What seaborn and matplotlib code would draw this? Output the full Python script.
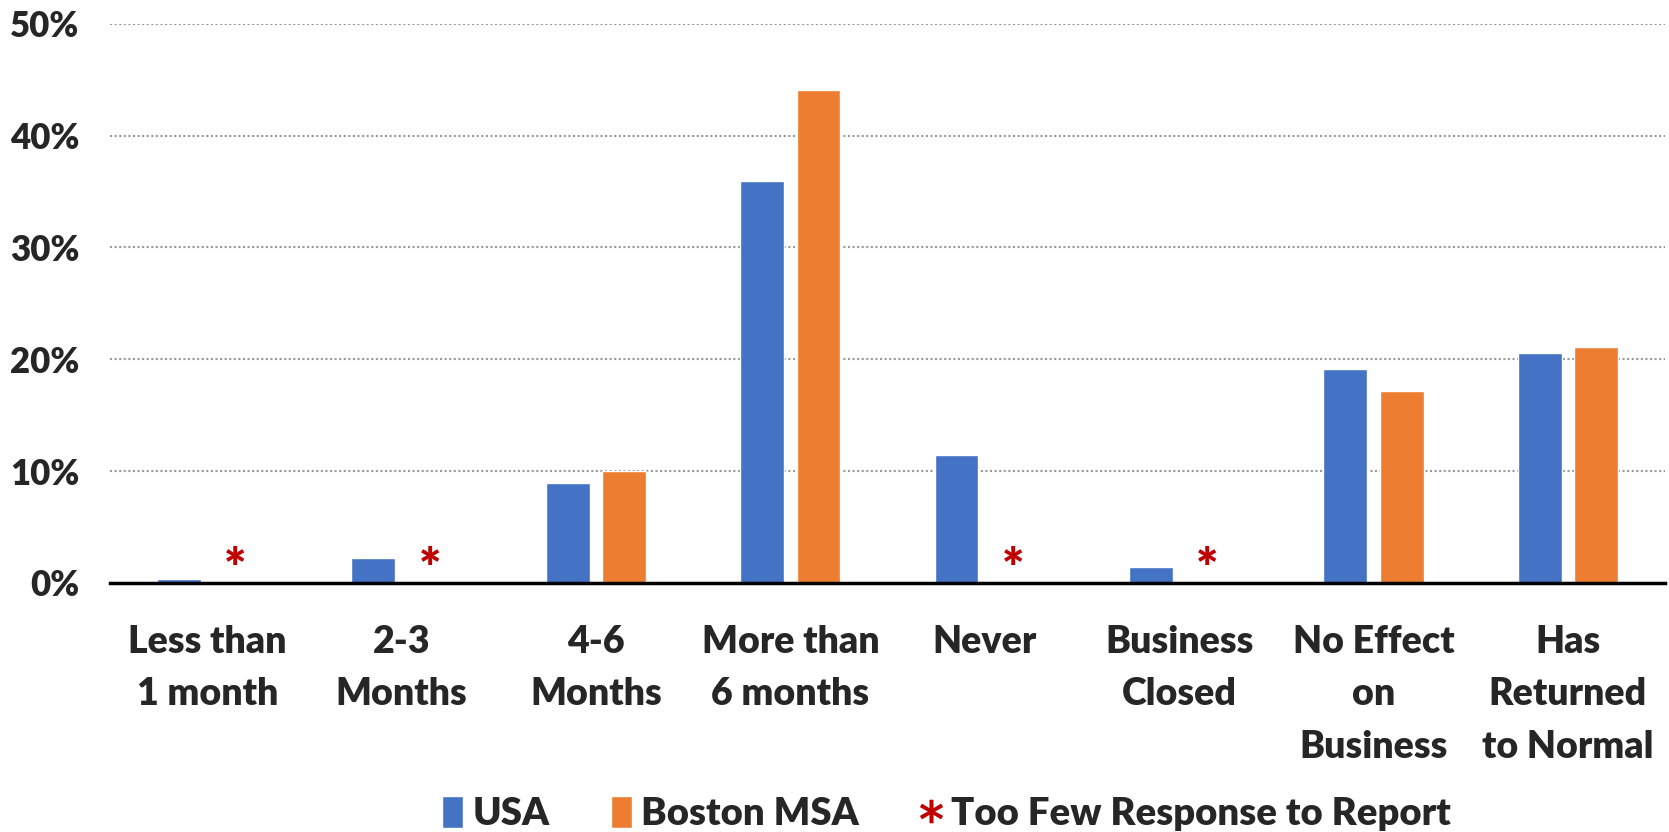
import pandas as pd
import matplotlib.pyplot as plt
import seaborn as sns
from matplotlib.patches import Patch
from matplotlib.lines import Line2D

categories = ["Less than\n1 month", "2-3\nMonths", "4-6\nMonths", "More than\n6 months",
              "Never", "Business\nClosed", "No Effect\non\nBusiness", "Has\nReturned\nto Normal"]
usa = [0.4, 2.2, 8.9, 35.9, 11.4, 1.4, 19.1, 20.6]
boston = [None, None, 10.0, 44.1, None, None, 17.2, 21.1]
too_few = [True, True, False, False, True, True, False, False]
series_names = ["USA", "Boston MSA"]
y_ticks = [0, 10, 20, 30, 40, 50]
note_text = "Too Few Response to Report"

blue = "#4472C4"
orange = "#ED7D31"
red = "#C00000"
weight = "heavy"

sns.set_style("white")
plt.rcParams["font.family"] = ["Lato", "DejaVu Sans"]

df = pd.DataFrame({
    "category": categories * 2,
    "value": usa + boston,
    "series": [series_names[0]] * len(categories) + [series_names[1]] * len(categories),
})
df["value"] = pd.to_numeric(df["value"])

W, H = 1669, 832
fig = plt.figure(figsize=(W / 100, H / 100), dpi=100)
ax = fig.add_axes([110 / W, 1 - 583 / H, (1665 - 110) / W, (583 - 23.7) / H])

bar_width = 0.58
sns.barplot(data=df, x="category", y="value", hue="series", order=categories,
            hue_order=series_names, palette=[blue, orange], width=bar_width, gap=0.22,
            saturation=1, legend=False, ax=ax)

# asterisks where Boston had too few responses
for i, flag in enumerate(too_few):
    if flag:
        ax.text(i + bar_width / 4, 1.0, "*", color=red, fontsize=38, fontweight=weight,
                ha="center", va="center")

ax.set_ylim(0, 50)
ax.set_xlim(-0.5, len(categories) - 0.5)
ax.set_yticks(y_ticks)
ax.set_yticklabels([f"{t}%" for t in y_ticks], fontsize=25, fontweight=weight)
ax.set_xticks(range(len(categories)))
ax.set_xticklabels(categories, fontsize=27, fontweight=weight, linespacing=1.67)
ax.tick_params(axis="y", length=0, pad=22)
ax.tick_params(axis="x", length=0, pad=30)
ax.set_xlabel("")
ax.set_ylabel("")

ax.yaxis.grid(True, linestyle=(0, (1, 1.2)), color="#999999", linewidth=1.5)
ax.set_axisbelow(True)
for side in ["left", "right", "top"]:
    ax.spines[side].set_visible(False)
ax.spines["bottom"].set_color("black")
ax.spines["bottom"].set_linewidth(2.5)

handles = [
    Patch(facecolor=blue, label=series_names[0]),
    Patch(facecolor=orange, label=series_names[1]),
    Line2D([], [], linestyle="none", marker="$*$", markersize=16, color=red, label=note_text),
]
leg = fig.legend(handles=handles, loc="center", bbox_to_anchor=(0.567, 0.022), ncol=3,
                 frameon=False, fontsize=27.5, handlelength=0.55, handleheight=0.9,
                 handletextpad=0.25, columnspacing=1.6)
for t in leg.get_texts():
    t.set_fontweight(weight)

fig.savefig("out.png", dpi=100)
